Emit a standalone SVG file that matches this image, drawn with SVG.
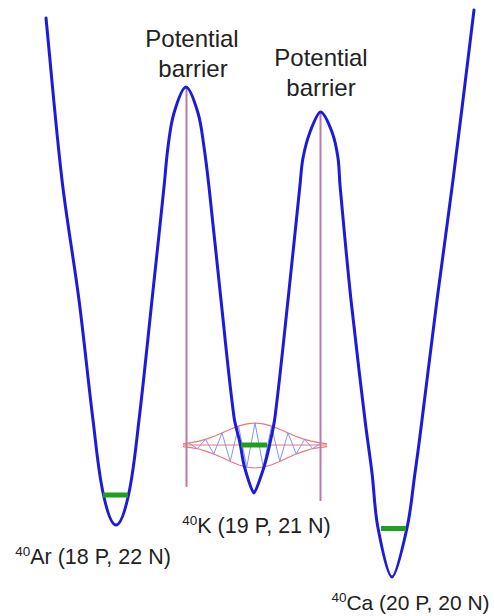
<svg xmlns="http://www.w3.org/2000/svg" width="494" height="616" viewBox="0 0 494 616">
<style>
.lbl{font-family:"Liberation Sans",Arial,sans-serif;fill:#222;}
.top{font-size:24px;text-anchor:middle;}
.iso{font-size:21.5px;text-anchor:middle;}
.iso2{font-size:21px;text-anchor:middle;}
.sup{font-size:13.5px;}
.pot{fill:none;stroke:#1c1cd8;stroke-width:3;stroke-linejoin:round;stroke-linecap:round;}
.bar{stroke:#b87ba9;stroke-width:2;}
.lvl{stroke:#1f9e1f;stroke-width:5;}
.env{fill:none;stroke:#ef7474;stroke-width:1.2;stroke-linejoin:round;}
.wave{fill:none;stroke:#8494ee;stroke-width:1;stroke-linejoin:round;}
</style>
<rect width="494" height="616" fill="#fff"/>
<g id="barrier-lines">
<line class="bar" x1="186.5" y1="88" x2="186.5" y2="487"/>
<line class="bar" x1="320.5" y1="113" x2="320.5" y2="501"/>
</g>
<g id="wavefunction">
<line x1="183" y1="445" x2="327" y2="445" stroke="#ef7474" stroke-width="1.2"/>
<polyline class="env" points="183,443.8 191,442.7 199,441.2 207,438.9 215,436 223,432.5 231,429 239,425.9 247,423.8 255,423 263,423.8 271,425.9 279,429 287,432.5 295,436 303,438.9 311,441.2 319,442.7 327,443.8"/>
<polyline class="env" points="183,446.7 191,447.6 199,449 207,451.6 215,454.5 223,458 231,461.7 239,465 247,467.2 255,468 263,467.2 271,465 279,461.7 287,458 295,454.5 303,451.6 311,449 319,447.6 327,446.7"/>
<polyline class="wave" points="189,443 197.25,448.6 205.5,439.4 213.75,453.9 222,433 230.25,461.4 238.5,426.1 246.75,467.1 255,423 263.25,467.1 271.5,426.1 279.75,461.4 288,433 296.25,453.9 304.5,439.4 312.75,448.6 321,443"/>
</g>
<g id="potential">
<path class="pot" d="M46,18 C51.3,72 55.7,126.1 62,180 C66.7,220.1 73.8,259.9 79,300 C84.2,340 88,380 93,420 C96.15,445 98.1,470.4 103.5,495 Q110.07,525 116,525 Q121.93,525 128.5,495 C133.9,470.4 136,445 139,420 C143.8,380.1 147.7,340 152,300 C156.05,262.3 160.1,224.7 164,187 C165.4,173.7 166.2,160.3 168,147 C169.5,135.6 170.7,124 174,113 Q181.8,87 186,87 Q190.2,87 198,113 C201.3,124 202.3,135.6 204,147 C206,160.3 207.5,173.7 209,187 C213.2,224.7 216.9,262.3 221,300 C225.2,339 228.8,378.2 234,417 C235.2,425.7 238.2,434.3 240,443 C241.7,450.9 242.3,459.2 244.5,467 Q251.8,493 254,493 Q255.7,493 264,467 C266.5,459.2 268.2,451 270,443 C271.9,434.4 273.9,425.7 275,417 C279.9,378.1 283.8,339 288,300 C292.1,261.7 296,223.3 300,185 C300.95,176 301.3,166.9 303,158 C304.7,149.2 306.8,140.4 310,132 Q317.6,112 320.5,112 Q324.4,112 332,132 C335.2,140.3 336.7,149.2 338,158 C339.3,166.9 339.2,176 340,185 C343.5,223.3 346.9,261.7 351,300 C355.3,340.1 360.2,380 365,420 C367.1,437.7 369.9,455.3 372,473 C374.2,491.3 374.5,509.9 378,528 Q387.4,577 392,577 Q396.2,577 407,528 C411,509.9 412.4,491.3 415,473 C417.5,455.4 419.8,437.7 422,420 C427.1,380 431.8,340 437,300 C442.2,259.9 447.9,220.1 453,180 C460.3,123.4 467,66.6 474,10"/>
</g>
<g id="levels">
<line class="lvl" x1="103" y1="495" x2="128" y2="495"/>
<line class="lvl" x1="241" y1="445" x2="267" y2="445"/>
<line class="lvl" x1="381" y1="528.5" x2="406" y2="528.5"/>
</g>
<g id="barrier-1-label">
<text class="lbl top" x="192" y="47">Potential</text>
<text class="lbl top" x="193" y="77">barrier</text>
</g>
<g id="barrier-2-label">
<text class="lbl top" x="321" y="66">Potential</text>
<text class="lbl top" x="321" y="96">barrier</text>
</g>
<g id="ar-label">
<text class="lbl iso" x="93" y="564"><tspan class="sup" dy="-8">40</tspan><tspan dy="8">Ar (18 P, 22 N)</tspan></text>
</g>
<g id="k-label">
<text class="lbl iso" x="256.5" y="533"><tspan class="sup" dy="-8">40</tspan><tspan dy="8">K (19 P, 21 N)</tspan></text>
</g>
<g id="ca-label">
<text class="lbl iso2" x="410.5" y="610"><tspan class="sup" dy="-8">40</tspan><tspan dy="8">Ca (20 P, 20 N)</tspan></text>
</g>
</svg>
